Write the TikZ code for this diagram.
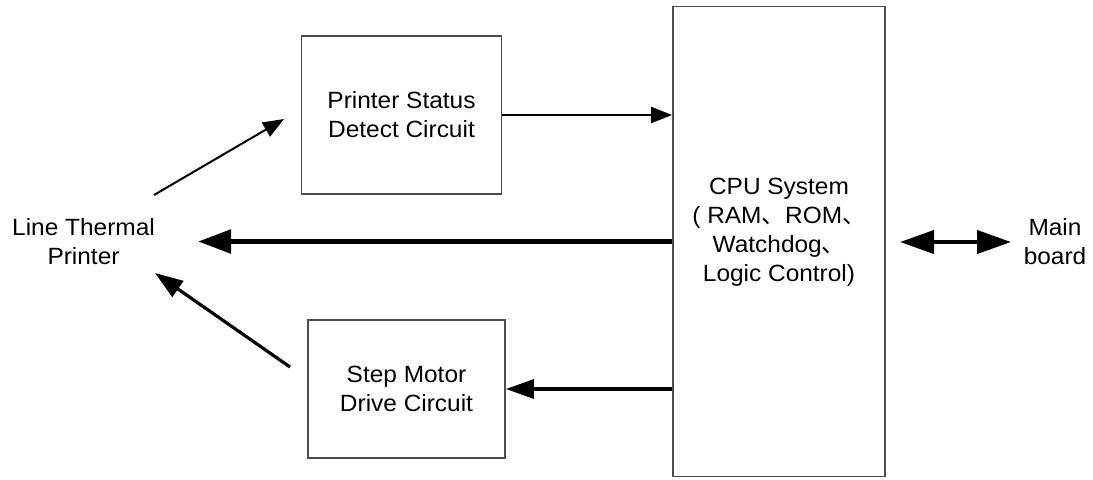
\documentclass[tikz,border=0pt]{standalone}
\usepackage{fontspec}
\setmainfont{Liberation Sans}[FakeStretch=1.04]
\newfontfamily\cjk{Noto Sans CJK SC}
\usetikzlibrary{arrows.meta,positioning}

\begin{document}
\begin{tikzpicture}[x=0.5pt,y=-0.5pt,
                    block/.style={draw=black!70,line width=0.9pt,align=center,inner sep=0pt,
                                  font=\fontsize{11.75pt}{14.5pt}\selectfont},
                    txt/.style={align=center,inner sep=0pt,font=\fontsize{11.75pt}{14.5pt}\selectfont},
                    thin arrow/.style={line width=1pt,-{Triangle[length=10.5pt,width=8pt]}},
                    mid arrow/.style={line width=1.6pt,-{Triangle[length=14pt,width=9.5pt]}},
                    thick arrow/.style={line width=2.75pt,-{Triangle[length=16.5pt,width=11.5pt]}},
                    both arrow/.style={line width=2pt,{Triangle[length=17pt,width=11.5pt]}-{Triangle[length=17pt,width=11.5pt]}}]
    \useasboundingbox (0,0) rectangle (1093,479);

    % blocks
    \node[block,minimum width=100pt,minimum height=79pt] (detect) at (401.5,115) {Printer Status\\Detect Circuit};
    \node[block,minimum width=98.5pt,minimum height=69pt] (motor) at (406.5,389) {Step Motor\\Drive Circuit};
    \node[block,minimum width=106pt,minimum height=235pt,
          label={[txt,yshift=4.5pt]center:CPU System\\( RAM{\cjk 、}ROM{\cjk 、}\\Watchdog{\cjk 、}\\Logic Control)}]
          (cpu) at (779,241.5) {};

    % outer labels
    \node[txt] (printer) at (83.5,241.5) {Line Thermal\\Printer};
    \node[txt] (board) at (1055,242) {Main\\board};

    % free arrow ends
    \coordinate (sense start) at (154,195);
    \coordinate (sense end) at (284,119);
    \coordinate (data end) at (198,241.5);
    \coordinate (step start) at (290,367);
    \coordinate (step end) at (155,273);
    \coordinate (bus left) at (900,242);
    \coordinate (bus right) at (1011,242);

    % connectors
    \draw[thin arrow] (sense start) -- (sense end);
    \draw[thin arrow] (detect.east) -- (detect.east -| cpu.west);
    \draw[thick arrow] (cpu.west) -- (data end);
    \draw[mid arrow] (motor.east -| cpu.west) -- (motor.east);
    \draw[mid arrow] (step start) -- (step end);
    \draw[both arrow] (bus left) -- (bus right);
\end{tikzpicture}
\end{document}
